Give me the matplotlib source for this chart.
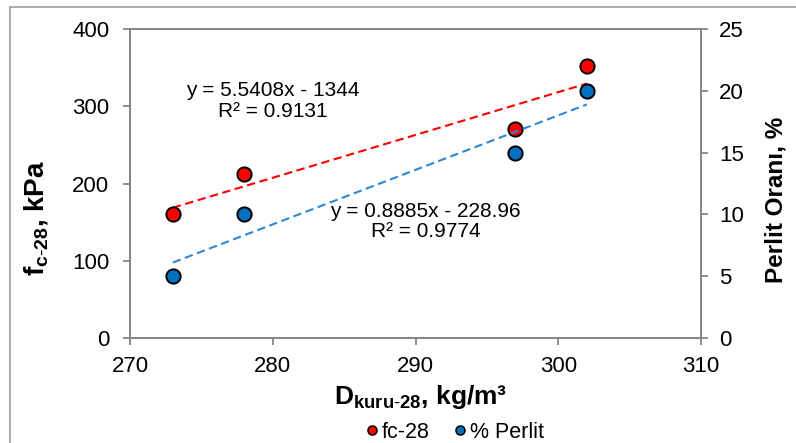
import numpy as np
import matplotlib
matplotlib.use("Agg")
import matplotlib.pyplot as plt
from matplotlib.lines import Line2D

plt.rcParams['font.family'] = ['Liberation Sans', 'DejaVu Sans']
plt.rcParams['mathtext.fontset'] = 'custom'
plt.rcParams['mathtext.rm'] = 'Liberation Sans'
plt.rcParams['mathtext.bf'] = 'Liberation Sans:bold'

# data
density = [273, 278, 297, 302]          # D kuru-28, kg/m3
fc28 = [161, 212, 271, 352]             # fc-28, kPa (left axis)
perlit = [5, 10, 15, 20]                # Perlit orani, % (right axis)

eq_fc = "y = 5.5408x - 1344\nR² = 0.9131"
eq_perlit = "y = 0.8885x - 228.96\nR² = 0.9774"

red = '#FF0000'
blue = '#0070C0'
gray = '#868686'

fig = plt.figure(figsize=(7.96, 4.43), dpi=100)
ax = fig.add_axes([130 / 796, 1 - 338 / 443, 571 / 796, 309 / 443])
ax2 = ax.twinx()

# trend lines (least squares over the plotted points)
xs = np.array([min(density), max(density)])
p1 = np.polyfit(density, fc28, 1)
p2 = np.polyfit(density, perlit, 1)
ax.plot(xs, np.polyval(p1, xs), ls=(0, (4, 2.2)), color=red, lw=1.5, zorder=2)
ax2.plot(xs, np.polyval(p2, xs), ls=(0, (4, 2.2)), color='#2E86D0', lw=1.5, zorder=2)

ax.scatter(density, fc28, s=105, color=red, edgecolor='black', linewidth=1.4, zorder=3)
ax2.scatter(density, perlit, s=105, color=blue, edgecolor='black', linewidth=1.4, zorder=3)

ax.set_xlim(270, 310)
ax.set_ylim(0, 400)
ax2.set_ylim(0, 25)
ax.set_xticks(np.arange(270, 311, 10))
ax.set_yticks(np.arange(0, 401, 100))
ax2.set_yticks(np.arange(0, 26, 5))

for a in (ax, ax2):
    for s in a.spines.values():
        s.set_color(gray)
        s.set_linewidth(1.3)
    a.tick_params(direction='out', length=5, width=1.3, color=gray,
                  labelsize=16, labelcolor='black')
ax.tick_params(axis='y', pad=10)
ax.tick_params(axis='x', pad=8)
ax2.tick_params(axis='y', pad=8)

ax.text(280, 307, eq_fc, ha='center', va='center', fontsize=15, linespacing=1.1)
ax.text(290.7, 151, eq_perlit, ha='center', va='center', fontsize=15, linespacing=1.1)

fig.text(36 / 796, 1 - 218 / 443, r'$\mathbf{f_{c\text{-}28}}$, kPa', rotation=90,
         ha='center', va='center', fontsize=20, fontweight='bold')
fig.text(776 / 796, 1 - 200 / 443, 'Perlit Oranı, %', rotation=90,
         ha='center', va='center', fontsize=17.5, fontweight='bold')
fig.text(421 / 796, 1 - 397 / 443, r'$\mathbf{D_{kuru\text{-}28}}$, kg/m³',
         ha='center', va='center', fontsize=19, fontweight='bold')

handles = [Line2D([], [], ls='none', marker='o', markersize=6.5, markerfacecolor=red,
                  markeredgecolor='black', markeredgewidth=1.1, label='fc-28'),
           Line2D([], [], ls='none', marker='o', markersize=6.5, markerfacecolor=blue,
                  markeredgecolor='black', markeredgewidth=1.1, label='% Perlit')]
fig.legend(handles=handles, loc='center', bbox_to_anchor=(453 / 796, 1 - 432 / 443),
           ncol=2, frameon=False, fontsize=15.5, handletextpad=0.0, columnspacing=1.0,
           handlelength=0.9, borderpad=0)

# outer chart border (cut off at right and bottom)
fig.add_artist(Line2D([10 / 796, 1], [1 - 7 / 443, 1 - 7 / 443], color='#A0A0A0', lw=1.2))
fig.add_artist(Line2D([10 / 796, 10 / 796], [0, 1 - 7 / 443], color='#A0A0A0', lw=1.2))

fig.savefig('out.png', dpi=100)
